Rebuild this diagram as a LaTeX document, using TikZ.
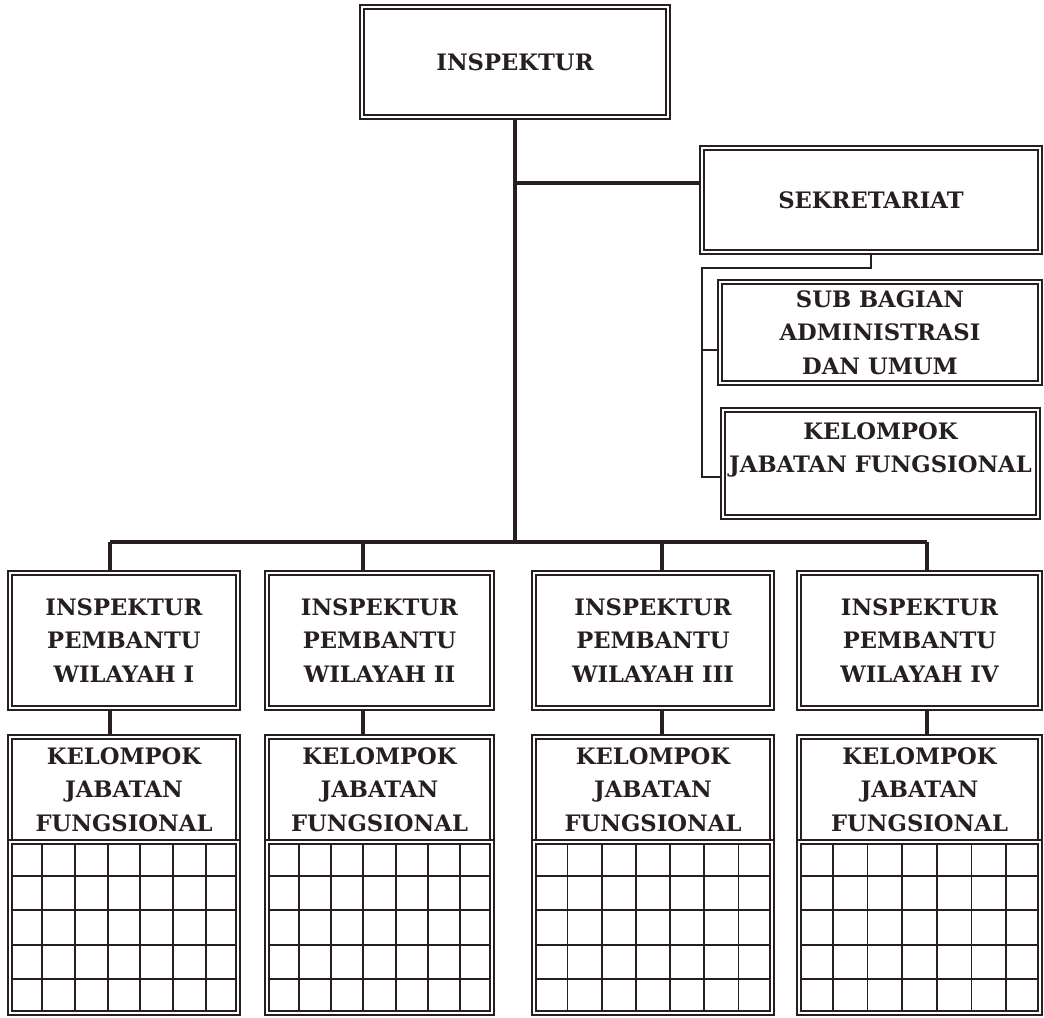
\documentclass[tikz,border=0pt]{standalone}
\usepackage{fontspec}
\setmainfont{DejaVu Serif}
\usetikzlibrary{calc}
\definecolor{inkc}{RGB}{38,30,32}
\tikzset{
  unittext/.style={align=center, text=inkc, font=\bfseries\fontsize{17}{25}\selectfont},
  unit/.style={unittext, draw=inkc, line width=1.05pt, double=white, double distance=1.8pt, inner sep=0pt},
  link/.style={draw=inkc, line width=2.8pt},
  thinlink/.style={draw=inkc, line width=2pt},
  gridline/.style={draw=inkc, line width=1.35pt, shorten >=2.4pt, shorten <=2.4pt}
}
\begin{document}
\begin{tikzpicture}[x=0.75pt,y=-0.75pt]
  \useasboundingbox (0,0) rectangle (1044,1017);
  % top
  \node[unit, minimum width=229.5pt, minimum height=82.5pt] (insp) at (515,62) {INSPEKTUR};
  \node[unit, minimum width=253.5pt, minimum height=78pt] (sekr) at (871,200) {SEKRETARIAT};
  \node[unit, minimum width=240pt, minimum height=75.75pt] (subbag) at (880,332.5) {SUB BAGIAN\\ADMINISTRASI\\DAN UMUM};
  \node[unit, minimum width=236.25pt, minimum height=80.25pt,
    label={[unittext, yshift=10pt]center:KELOMPOK\\JABATAN FUNGSIONAL}] (kjfs) at (880.5,463.5) {};
  % trunk and bus
  \coordinate (busL) at (110,542);
  \coordinate (busR) at (927,542);
  \coordinate (sk) at ([yshift=12.75pt]sekr.west);
  \draw[link] (insp.south) -- (insp.south |- busL);
  \draw[link] (busL) -- (busR);
  \draw[link] (sk) -- (sk -| insp.south);
  % sekretariat
  \coordinate (sekrdn) at (702,268);
  \coordinate (subin) at ([yshift=-13pt]subbag.west);
  \coordinate (kjfsin) at ([yshift=-10pt]kjfs.west);
  \draw[thinlink] (sekr.south) |- (sekrdn) |- (kjfsin);
  \draw[thinlink] (subin -| sekrdn) -- (subin);
  % inspektur pembantu
  \foreach \i/\cx/\w/\dx/\r in {1/124/171/110/I, 2/379.5/168.75/363/II, 3/653/178.5/662/III, 4/919.5/180.75/927/IV} {
    \node[unit, minimum width=\w pt, minimum height=101.25pt] (ip\i) at (\cx,640.5) {INSPEKTUR\\PEMBANTU\\WILAYAH \r};
    \node[unit, minimum width=\w pt, minimum height=78.75pt] (kjf\i) at (\cx,789.5) {KELOMPOK\\JABATAN\\FUNGSIONAL};
    \node[unit, minimum width=\w pt, minimum height=128.25pt] (grid\i) at (\cx,927.5) {};
    \coordinate (d\i) at (\dx,542);
    \draw[link] (d\i) -- (ip\i.north -| d\i);
    \draw[link] (ip\i.south -| d\i) -- (kjf\i.north -| d\i);
    \foreach \k in {1,...,6}
      \draw[gridline] ($(grid\i.north west)!\k/7!(grid\i.north east)$) -- ($(grid\i.south west)!\k/7!(grid\i.south east)$);
    \foreach \k in {1,...,4}
      \draw[gridline] ($(grid\i.north west)!\k/5!(grid\i.south west)$) -- ($(grid\i.north east)!\k/5!(grid\i.south east)$);
  }
\end{tikzpicture}
\end{document}
